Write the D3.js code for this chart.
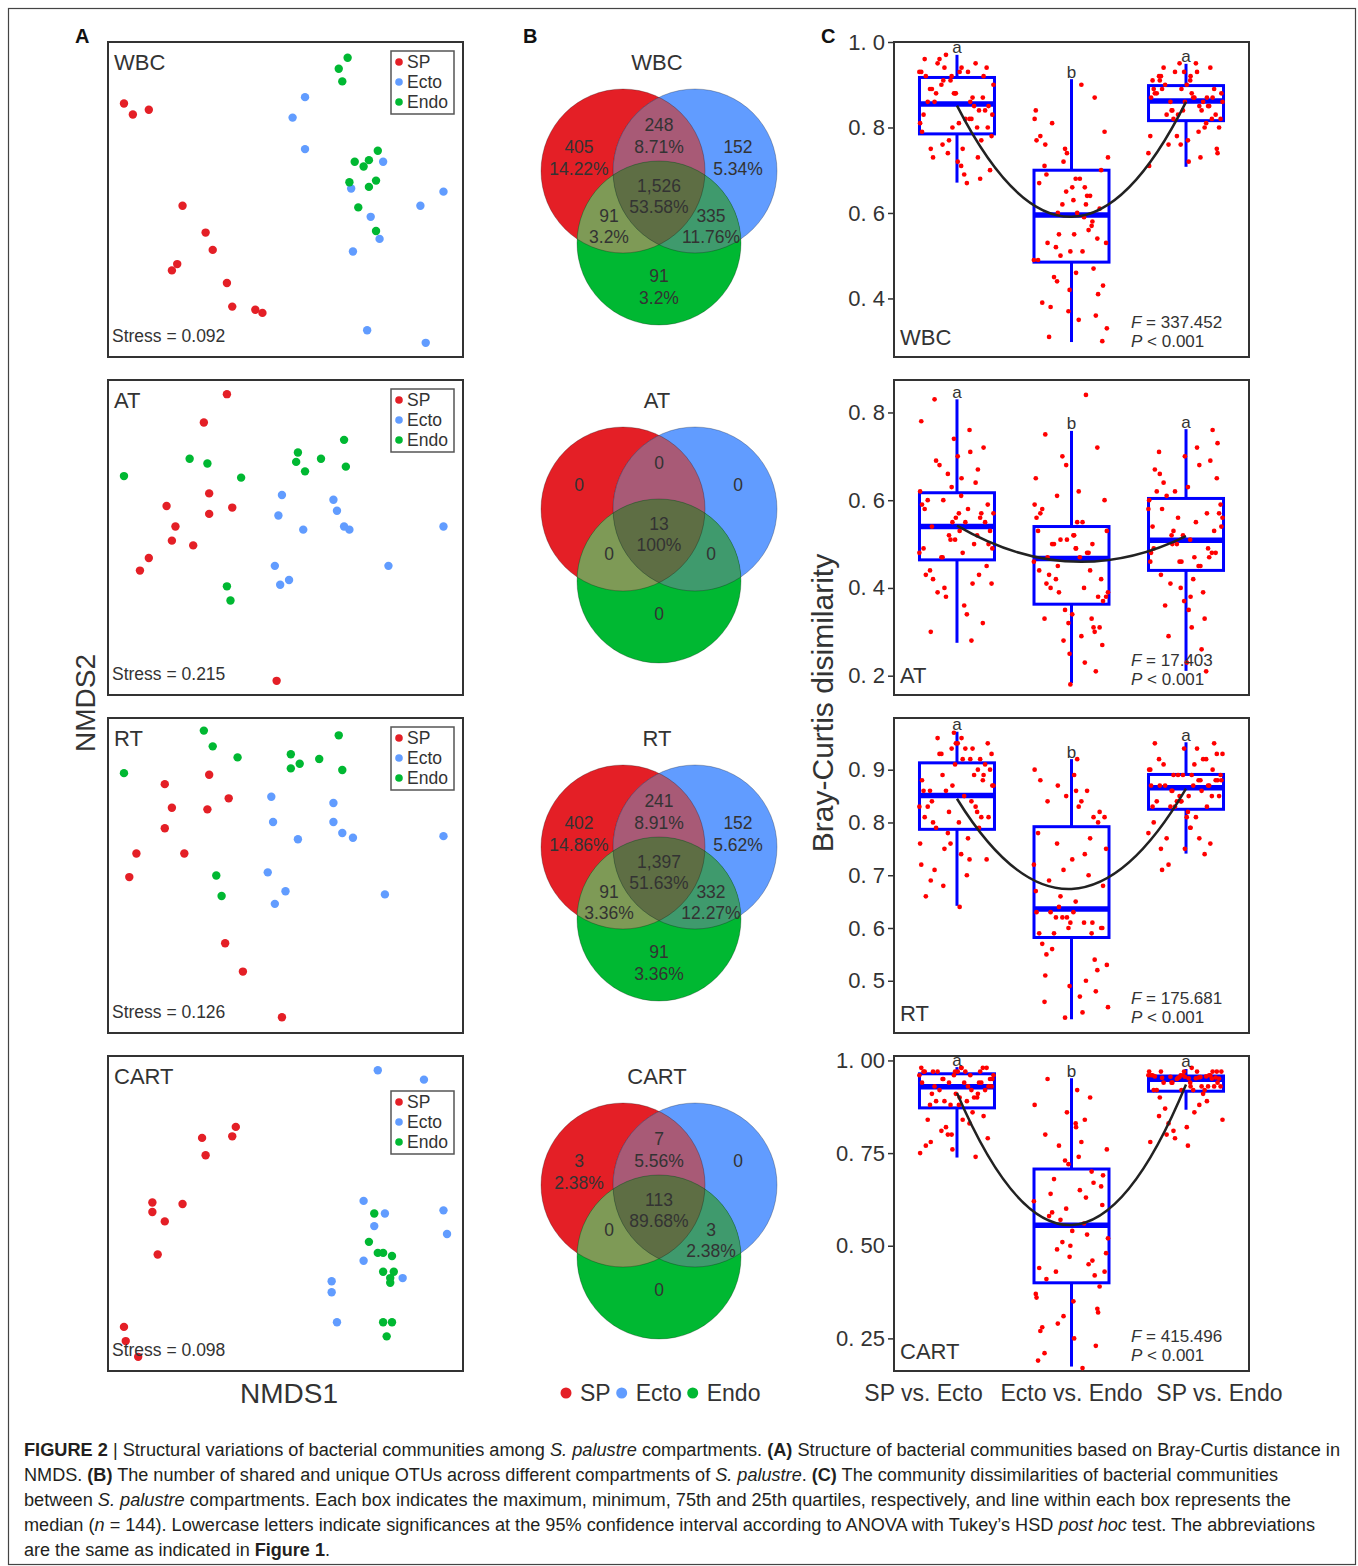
<!DOCTYPE html>
<html>
<head>
<meta charset="utf-8">
<script src="https://cdnjs.cloudflare.com/ajax/libs/d3/7.8.5/d3.min.js"></script>
<style>
  body { margin: 0; background: #fff; }
  svg text { font-family: "Liberation Sans", Arial, sans-serif; fill: #333; }
</style>
</head>
<body>
<svg id="fig"></svg>
<script>
// ---- data ----
const tissues = ["WBC", "AT", "RT", "CART"];
const compartments = ["SP", "Ecto", "Endo"];
const comparisons = ["SP vs. Ecto", "Ecto vs. Endo", "SP vs. Endo"];
const sigLetters = ["a", "b", "a"];
const stress = ["0.092", "0.215", "0.126", "0.098"];

// NMDS scores, [NMDS1, NMDS2] per sample, one list per compartment (SP, Ecto, Endo)
const nmdsWBC = [
  [[-0.91,0.61],[-0.86,0.54],[-0.77,0.57],[-0.58,-0.04],[-0.45,-0.21],[-0.41,-0.32],[-0.61,-0.41],[-0.64,-0.45],[-0.33,-0.53],[-0.30,-0.68],[-0.17,-0.70],[-0.13,-0.72]],
  [[0.11,0.65],[0.04,0.52],[0.11,0.32],[0.55,0.24],[0.37,0.07],[0.89,0.05],[0.76,-0.04],[0.48,-0.11],[0.53,-0.25],[0.38,-0.33],[0.46,-0.83],[0.79,-0.91]],
  [[0.35,0.90],[0.30,0.83],[0.32,0.75],[0.52,0.31],[0.39,0.24],[0.47,0.25],[0.44,0.21],[0.36,0.11],[0.51,0.12],[0.47,0.08],[0.41,-0.05],[0.51,-0.20]]
];
const nmdsAT = [
  [[-0.33,0.91],[-0.46,0.73],[-0.43,0.28],[-0.67,0.20],[-0.30,0.19],[-0.43,0.15],[-0.62,0.07],[-0.64,-0.02],[-0.52,-0.05],[-0.77,-0.13],[-0.82,-0.21],[-0.05,-0.91]],
  [[-0.02,0.27],[-0.04,0.14],[0.10,0.05],[0.27,0.24],[0.29,0.17],[0.33,0.07],[0.36,0.05],[0.89,0.07],[-0.06,-0.18],[-0.03,-0.30],[0.02,-0.27],[0.58,-0.18]],
  [[-0.91,0.39],[-0.54,0.50],[-0.44,0.47],[-0.25,0.38],[0.07,0.54],[0.06,0.48],[0.11,0.42],[0.20,0.50],[0.33,0.62],[0.34,0.45],[-0.33,-0.31],[-0.31,-0.40]]
];
const nmdsRT = [
  [[-0.43,0.64],[-0.68,0.58],[-0.32,0.49],[-0.64,0.43],[-0.44,0.42],[-0.68,0.30],[-0.84,0.14],[-0.57,0.14],[-0.88,-0.01],[-0.34,-0.43],[-0.24,-0.61],[-0.02,-0.90]],
  [[-0.08,0.50],[-0.07,0.34],[0.07,0.23],[0.27,0.46],[0.27,0.34],[0.32,0.27],[0.38,0.24],[0.89,0.25],[-0.10,0.02],[0.00,-0.10],[-0.06,-0.18],[0.56,-0.12]],
  [[-0.46,0.92],[-0.41,0.82],[-0.27,0.75],[-0.91,0.65],[0.03,0.77],[0.08,0.71],[0.03,0.68],[0.19,0.74],[0.30,0.89],[0.32,0.67],[-0.39,0.00],[-0.36,-0.13]]
];
const nmdsCART = [
  [[-0.28,0.55],[-0.30,0.49],[-0.47,0.48],[-0.45,0.37],[-0.75,0.07],[-0.58,0.06],[-0.75,0.01],[-0.68,-0.05],[-0.72,-0.26],[-0.91,-0.72],[-0.90,-0.81],[-0.83,-0.91]],
  [[0.52,0.91],[0.78,0.85],[0.44,0.08],[0.56,0.00],[0.50,-0.08],[0.89,0.02],[0.91,-0.13],[0.44,-0.30],[0.66,-0.41],[0.26,-0.43],[0.26,-0.50],[0.29,-0.69]],
  [[0.50,0.00],[0.47,-0.18],[0.52,-0.25],[0.55,-0.25],[0.60,-0.27],[0.55,-0.37],[0.61,-0.37],[0.59,-0.41],[0.59,-0.44],[0.55,-0.69],[0.60,-0.69],[0.57,-0.78]]
];
const nmdsData = [nmdsWBC, nmdsAT, nmdsRT, nmdsCART];

// Venn regions: SP, SP&Ecto, Ecto, all, SP&Endo, Ecto&Endo, Endo
const vennWBC = [405, 248, 152, 1526, 91, 335, 91];
const vennWBCPct = [14.22, 8.71, 5.34, 53.58, 3.2, 11.76, 3.2];
const vennAT = [0, 0, 0, 13, 0, 0, 0];
const vennATPct = [0, 0, 0, 100, 0, 0, 0];
const vennRT = [402, 241, 152, 1397, 91, 332, 91];
const vennRTPct = [14.86, 8.91, 5.62, 51.63, 3.36, 12.27, 3.36];
const vennCART = [3, 7, 0, 113, 0, 3, 0];
const vennCARTPct = [2.38, 5.56, 0, 89.68, 0, 2.38, 0];
const vennCounts = [vennWBC, vennAT, vennRT, vennCART];
const vennPcts = [vennWBCPct, vennATPct, vennRTPct, vennCARTPct];

// Bray-Curtis box stats [min, q1, median, q3, max] per comparison
const boxWBC = [[0.671,0.785,0.855,0.917,0.970],[0.298,0.485,0.595,0.700,0.913],[0.708,0.816,0.862,0.898,0.949]];
const boxAT = [[0.275,0.464,0.540,0.617,0.830],[0.183,0.363,0.467,0.540,0.758],[0.211,0.440,0.509,0.604,0.762]];
const boxRT = [[0.642,0.787,0.851,0.913,0.972],[0.427,0.582,0.636,0.792,0.920],[0.741,0.825,0.866,0.891,0.952]];
const boxCART = [[0.738,0.872,0.929,0.964,0.982],[0.174,0.400,0.555,0.707,0.952],[0.867,0.917,0.949,0.958,0.977]];
const boxData = [boxWBC, boxAT, boxRT, boxCART];

// quadratic fit values at the three comparisons
const fitWBC = [0.851, 0.591, 0.860];
const fitAT = [0.542, 0.460, 0.518];
const fitRT = [0.845, 0.674, 0.864];
const fitCART = [0.912, 0.556, 0.935];
const fits = [fitWBC, fitAT, fitRT, fitCART];

const fStats = ["337.452", "17.403", "175.681", "415.496"];
const yDomains = [[0.263, 1.0], [0.156, 0.874], [0.401, 0.998], [0.162, 1.012]];
const yTicks = [[0.4, 0.6, 0.8, 1.0], [0.2, 0.4, 0.6, 0.8], [0.5, 0.6, 0.7, 0.8, 0.9], [0.25, 0.5, 0.75, 1.0]];
const tickDigits = [1, 1, 1, 2];

// jittered pairwise dissimilarities (estimated from the dots)
const dissWBC = [
  [.92,.86,.80,.78,.88,.93,.77,.81,.82,.76,.94,.88,.95,.89,.75,.83,.84,.74,.90,.96,.93,.73,.85,.91,.87,.79,.72,.92,.94,.80,.86,.71,.70,.95,.88,.82,.89,.84,.97,.69,.93,.68,.90,.81,.83,.86,.67,.92,.87,.96,.85,.77,.80,.75,.94,.91,.73,.93,.82,.88],
  [.71,.60,.49,.47,.62,.73,.45,.51,.53,.43,.75,.64,.77,.66,.41,.55,.57,.39,.68,.79,.81,.37,.59,.69,.61,.50,.35,.84,.87,.52,.63,.33,.31,.90,.65,.54,.67,.56,.72,.30,.76,.46,.60,.58,.49,.62,.42,.78,.66,.74,.53,.38,.55,.36,.82,.68,.44,.70,.51,.64],
  [.90,.87,.82,.81,.88,.91,.80,.83,.84,.79,.92,.89,.93,.87,.78,.85,.86,.77,.88,.94,.95,.76,.82,.89,.86,.83,.75,.91,.92,.84,.87,.74,.73,.93,.88,.85,.89,.82,.90,.72,.94,.71,.87,.84,.83,.86,.80,.92,.88,.91,.85,.78,.86,.76,.93,.89,.74,.95,.84,.87]
];
const dissAT = [
  [.62,.55,.47,.45,.56,.64,.44,.48,.49,.43,.66,.57,.68,.58,.42,.50,.51,.41,.59,.70,.72,.40,.52,.60,.61,.53,.39,.74,.76,.54,.55,.38,.36,.78,.56,.47,.57,.49,.83,.34,.63,.32,.58,.50,.52,.59,.30,.65,.60,.67,.48,.28,.51,.43,.71,.55,.41,.69,.53,.57],
  [.55,.47,.37,.35,.48,.56,.34,.38,.39,.33,.58,.49,.60,.50,.32,.40,.41,.31,.51,.62,.65,.30,.42,.52,.53,.43,.29,.68,.72,.44,.48,.28,.27,.75,.49,.45,.50,.46,.84,.25,.57,.23,.51,.38,.40,.52,.21,.59,.47,.61,.42,.18,.44,.33,.55,.53,.31,.70,.39,.50],
  [.61,.52,.45,.43,.53,.62,.42,.46,.47,.41,.63,.54,.64,.55,.40,.48,.49,.39,.56,.65,.66,.38,.50,.57,.58,.45,.37,.67,.68,.46,.59,.36,.35,.69,.60,.47,.52,.48,.70,.33,.71,.31,.54,.49,.50,.56,.29,.72,.58,.73,.46,.26,.48,.23,.76,.53,.21,.62,.51,.57]
];
const dissRT = [
  [.92,.86,.79,.78,.87,.93,.77,.80,.81,.76,.94,.88,.95,.89,.75,.82,.83,.74,.90,.96,.97,.73,.84,.91,.86,.85,.72,.92,.93,.80,.87,.71,.70,.94,.88,.81,.89,.82,.95,.69,.96,.68,.90,.83,.84,.91,.66,.92,.87,.93,.79,.64,.81,.76,.94,.89,.73,.95,.83,.86],
  [.80,.64,.59,.57,.65,.81,.56,.60,.61,.55,.82,.66,.83,.67,.54,.62,.63,.53,.69,.84,.85,.52,.59,.70,.71,.60,.51,.86,.87,.61,.72,.50,.49,.88,.74,.62,.75,.63,.89,.48,.90,.47,.76,.60,.61,.77,.46,.92,.78,.81,.62,.45,.59,.44,.84,.68,.43,.86,.63,.73],
  [.90,.87,.83,.82,.88,.91,.81,.84,.85,.80,.92,.89,.93,.87,.79,.86,.83,.78,.88,.94,.95,.77,.84,.89,.87,.85,.76,.90,.91,.86,.88,.75,.74,.92,.89,.83,.87,.84,.93,.72,.94,.71,.88,.85,.86,.87,.81,.90,.89,.92,.84,.79,.85,.77,.89,.88,.75,.95,.83,.87]
];
const dissCART = [
  [.97,.93,.88,.86,.94,.97,.85,.89,.90,.84,.98,.95,.97,.96,.83,.91,.92,.82,.94,.98,.97,.81,.88,.95,.93,.89,.80,.98,.97,.90,.94,.79,.78,.98,.95,.91,.96,.92,.97,.77,.96,.76,.93,.89,.90,.94,.75,.97,.95,.98,.91,.74,.88,.84,.97,.94,.80,.96,.92,.93],
  [.72,.56,.41,.39,.57,.74,.37,.42,.43,.35,.76,.58,.78,.60,.33,.44,.45,.31,.61,.80,.82,.29,.46,.62,.63,.47,.27,.84,.86,.48,.64,.25,.23,.88,.65,.49,.66,.50,.90,.21,.92,.19,.67,.51,.52,.68,.17,.95,.69,.73,.53,.36,.54,.32,.77,.70,.28,.83,.43,.59],
  [.96,.951,.92,.91,.953,.97,.90,.93,.94,.89,.96,.955,.97,.957,.88,.92,.93,.87,.952,.96,.97,.86,.94,.954,.956,.92,.85,.98,.96,.93,.950,.84,.83,.97,.953,.94,.955,.93,.96,.82,.97,.81,.957,.92,.94,.951,.80,.96,.954,.97,.93,.79,.92,.78,.96,.956,.77,.97,.94,.952]
];
const dissData = [dissWBC, dissAT, dissRT, dissCART];
// horizontal jitter of the dots, as fraction of half box width
const jitter = [-0.82,0.35,-0.12,0.91,-0.55,0.07,0.64,-0.97,0.22,-0.38,0.78,-0.03,0.49,-0.71,0.15,-0.88,0.58,-0.24,0.96,-0.46,
  0.29,-0.63,0.83,-0.17,0.41,-0.92,0.02,0.70,-0.33,0.53,-0.77,0.11,0.87,-0.51,-0.08,0.33,-0.66,0.74,-0.29,0.19,
  -0.94,0.61,-0.41,0.05,0.93,-0.59,0.26,-0.14,0.68,-0.85,0.45,-0.21,0.81,-0.69,0.12,-0.36,0.55,-0.99,0.38,-0.05];

const captionLines = [
  [["FIGURE 2", "b"], [" | Structural variations of bacterial communities among ", ""], ["S. palustre", "i"], [" compartments. ", ""], ["(A)", "b"], [" Structure of bacterial communities based on Bray-Curtis distance in", ""]],
  [["NMDS. ", ""], ["(B)", "b"], [" The number of shared and unique OTUs across different compartments of ", ""], ["S. palustre", "i"], [". ", ""], ["(C)", "b"], [" The community dissimilarities of bacterial communities", ""]],
  [["between ", ""], ["S. palustre", "i"], [" compartments. Each box indicates the maximum, minimum, 75th and 25th quartiles, respectively, and line within each box represents the", ""]],
  [["median (", ""], ["n", "i"], [" = 144). Lowercase letters indicate significances at the 95% confidence interval according to ANOVA with Tukey\u2019s HSD ", ""], ["post hoc", "i"], [" test. The abbreviations", ""]],
  [["are the same as indicated in ", ""], ["Figure 1", "b"], [".", ""]]
];
const captionWidths = [1316, 1254, 1267, 1291, 306];

// ---- styles / layout ----
const W = 1358, H = 1566;
const colors = ["#e41f26", "#619cff", "#00b832"];
const overlapColors = { rb: "#a85a76", rg: "#7e9a56", bg: "#3f9a6d", rbg: "#5e6e44" };
const rowTop = i => 42 + i * 338;
const panelH = 315;
const legendTop = [9, 9, 9, 35];

const svg = d3.select("#fig").attr("width", W).attr("height", H);

// outer frame
svg.append("rect")
    .attr("x", 8.5).attr("y", 8.5)
    .attr("width", 1347).attr("height", 1556)
    .attr("fill", "none").attr("stroke", "#444").attr("stroke-width", 1.2);

// panel letters
[["A", 75], ["B", 523], ["C", 821]].forEach(([l, x]) => {
    svg.append("text").attr("x", x).attr("y", 43)
        .attr("font-size", 20).attr("font-weight", "bold").style("fill", "#111").text(l);
});

// ---- A: NMDS ----
const nx = d3.scaleLinear().domain([-1, 1]).range([108, 463]);

tissues.forEach((t, i) => {
    const top = rowTop(i);
    const ny = d3.scaleLinear().domain([-1, 1]).range([top + panelH, top]);
    const g = svg.append("g");

    g.append("rect")
        .attr("x", 108).attr("y", top).attr("width", 355).attr("height", panelH)
        .attr("fill", "none").attr("stroke", "#333").attr("stroke-width", 2);

    nmdsData[i].forEach((pts, k) => {
        g.selectAll(null).data(pts).join("circle")
            .attr("cx", d => nx(d[0]))
            .attr("cy", d => ny(d[1]))
            .attr("r", 4.2)
            .attr("fill", colors[k]);
    });

    g.append("text").attr("x", 114).attr("y", top + 28).attr("font-size", 22).text(t);
    g.append("text").attr("x", 112).attr("y", top + 300).attr("font-size", 17.5).text(`Stress = ${stress[i]}`);

    // legend
    const lt = top + legendTop[i];
    g.append("rect")
        .attr("x", 391).attr("y", lt).attr("width", 63).attr("height", 63)
        .attr("fill", "#fff").attr("stroke", "#555").attr("stroke-width", 1.5);
    compartments.forEach((c, k) => {
        const cy = lt + 11 + k * 20;
        g.append("circle").attr("cx", 399).attr("cy", cy).attr("r", 3.8).attr("fill", colors[k]);
        g.append("text").attr("x", 407).attr("y", cy + 6).attr("font-size", 17.5).text(c);
    });
});

svg.append("text")
    .attr("transform", "translate(95,703) rotate(-90)")
    .attr("text-anchor", "middle").attr("font-size", 28).text("NMDS2");
svg.append("text")
    .attr("x", 289).attr("y", 1403)
    .attr("text-anchor", "middle").attr("font-size", 28).text("NMDS1");

// ---- B: Venn ----
const vennR = 82;
const vennCenters = [[-36, -24], [36, -24], [0, 48]];
const vennAnchors = [[-80, -37], [0, -59], [79, -37], [0, 1.5], [-50, 31.5], [52, 31.5], [0, 92]];
const defs = svg.append("defs");
const fmtCount = d3.format(",");

tissues.forEach((t, i) => {
    const top = rowTop(i);
    const cx = 659, cy = top + 153;
    const g = svg.append("g");

    g.append("text").attr("x", 657).attr("y", top + 28)
        .attr("text-anchor", "middle").attr("font-size", 22).text(t);

    vennCenters.forEach((c, k) => {
        defs.append("clipPath").attr("id", `clip-${t}-${k}`)
            .append("circle").attr("cx", cx + c[0]).attr("cy", cy + c[1]).attr("r", vennR);
    });
    const circ = (sel, k) => sel.append("circle")
        .attr("cx", cx + vennCenters[k][0]).attr("cy", cy + vennCenters[k][1]).attr("r", vennR);

    [0, 1, 2].forEach(k => circ(g, k).attr("fill", colors[k]));
    circ(g, 1).attr("clip-path", `url(#clip-${t}-0)`).attr("fill", overlapColors.rb);
    circ(g, 2).attr("clip-path", `url(#clip-${t}-0)`).attr("fill", overlapColors.rg);
    circ(g, 2).attr("clip-path", `url(#clip-${t}-1)`).attr("fill", overlapColors.bg);
    circ(g.append("g").attr("clip-path", `url(#clip-${t}-0)`), 2)
        .attr("clip-path", `url(#clip-${t}-1)`).attr("fill", overlapColors.rbg);
    [0, 1, 2].forEach(k => circ(g, k).attr("fill", "none").attr("stroke", "#000").attr("stroke-opacity", 0.25));

    vennCounts[i].forEach((n, r) => {
        const ax = cx + vennAnchors[r][0], ay = cy + vennAnchors[r][1];
        const lbl = g.append("text").attr("text-anchor", "middle").attr("font-size", 17.5)
            .attr("dominant-baseline", "central");
        lbl.append("tspan").attr("x", ax).attr("y", ay - 10.75).text(fmtCount(n));
        if (n > 0) lbl.append("tspan").attr("x", ax).attr("y", ay + 10.75).text(`${vennPcts[i][r]}%`);
    });
});

// bottom legend for B
let lx = 566;
compartments.forEach((c, k) => {
    svg.append("circle").attr("cx", lx).attr("cy", 1393).attr("r", 5.5).attr("fill", colors[k]);
    const tx = svg.append("text").attr("x", lx + 14).attr("y", 1401).attr("font-size", 23).text(c);
    lx = lx + 14 + tx.node().getComputedTextLength() + 11;
});

// ---- C: Bray-Curtis boxplots ----
const xb = d3.scalePoint().domain(comparisons).range([894, 1249]).padding(0.55);
const xl = d3.scalePoint().domain(comparisons).range([894, 1249]).padding(0.2);
const boxW = 75;

tissues.forEach((t, i) => {
    const top = rowTop(i);
    const y = d3.scaleLinear().domain(yDomains[i]).range([top + panelH, top]);
    const g = svg.append("g");

    g.append("rect")
        .attr("x", 894).attr("y", top).attr("width", 355).attr("height", panelH)
        .attr("fill", "none").attr("stroke", "#333").attr("stroke-width", 2);

    const ax = g.append("g").attr("transform", "translate(894,0)")
        .call(d3.axisLeft(y).tickValues(yTicks[i]).tickSize(6).tickPadding(3)
            .tickFormat(d => d3.format(`.${tickDigits[i]}f`)(d).replace(".", ". ")));
    ax.select(".domain").remove();
    ax.attr("font-size", 22).attr("font-family", null);
    ax.selectAll("text").style("fill", "#333");
    ax.selectAll("line").attr("stroke", "#333").attr("stroke-width", 1.5);

    boxData[i].forEach((s, j) => {
        const cx = xb(comparisons[j]);
        g.append("line").attr("x1", cx).attr("x2", cx).attr("y1", y(s[4])).attr("y2", y(s[3]))
            .attr("stroke", "#0000ff").attr("stroke-width", 3);
        g.append("line").attr("x1", cx).attr("x2", cx).attr("y1", y(s[1])).attr("y2", y(s[0]))
            .attr("stroke", "#0000ff").attr("stroke-width", 3);
        g.append("rect").attr("x", cx - boxW / 2).attr("y", y(s[3]))
            .attr("width", boxW).attr("height", y(s[1]) - y(s[3]))
            .attr("fill", "none").attr("stroke", "#0000ff").attr("stroke-width", 3);
        g.append("line").attr("x1", cx - boxW / 2).attr("x2", cx + boxW / 2)
            .attr("y1", y(s[2])).attr("y2", y(s[2]))
            .attr("stroke", "#0000ff").attr("stroke-width", 5.5);
    });

    dissData[i].forEach((vals, j) => {
        const cx = xb(comparisons[j]);
        const shift = 13 * j + 7 * i;
        g.selectAll(null).data(vals).join("circle")
            .attr("cx", (d, k) => cx + jitter[(k + shift) % jitter.length] * 38)
            .attr("cy", d => y(d))
            .attr("r", 2.35)
            .attr("fill", "#ff0000");
    });

    boxData[i].forEach((s, j) => {
        g.append("text").attr("x", xb(comparisons[j])).attr("y", y(s[4]) - 1.5)
            .attr("text-anchor", "middle").attr("font-size", 17).text(sigLetters[j]);
    });

    // quadratic trend through the fitted values
    const xs = comparisons.map(c => xb(c));
    const ys = fits[i].map(v => y(v));
    const p = d3.path();
    p.moveTo(xs[0], ys[0]);
    p.quadraticCurveTo(xs[1], 2 * ys[1] - (ys[0] + ys[2]) / 2, xs[2], ys[2]);
    g.append("path").attr("d", p.toString())
        .attr("fill", "none").attr("stroke", "#222").attr("stroke-width", 2.5);

    g.append("text").attr("x", 900).attr("y", top + 303).attr("font-size", 22).text(t);
    const f = g.append("text").attr("x", 1131).attr("y", top + 286).attr("font-size", 17);
    f.append("tspan").attr("font-style", "italic").text("F");
    f.append("tspan").text(` = ${fStats[i]}`);
    const pv = g.append("text").attr("x", 1131).attr("y", top + 305).attr("font-size", 17);
    pv.append("tspan").attr("font-style", "italic").text("P");
    pv.append("tspan").text(" < 0.001");
});

svg.append("text")
    .attr("transform", "translate(833,703) rotate(-90)")
    .attr("text-anchor", "middle").attr("font-size", 30).text("Bray-Curtis disimilarity");

comparisons.forEach(c => {
    svg.append("text").attr("x", xl(c)).attr("y", 1401)
        .attr("text-anchor", "middle").attr("font-size", 23).text(c);
});

// ---- caption ----
captionLines.forEach((segs, i) => {
    const t = svg.append("text")
        .attr("x", 24).attr("y", 1456 + i * 25)
        .attr("font-size", 18)
        .attr("textLength", captionWidths[i])
        .attr("lengthAdjust", "spacingAndGlyphs")
        .style("white-space", "pre")
        .style("fill", "#231f20")
        .style("font-family", "'Liberation Sans Narrow', 'Liberation Sans', Arial, sans-serif");
    segs.forEach(([txt, st]) => {
        const s = t.append("tspan").text(txt);
        if (st === "b") s.attr("font-weight", "bold");
        if (st === "i") s.attr("font-style", "italic");
    });
});
</script>
</body>
</html>
